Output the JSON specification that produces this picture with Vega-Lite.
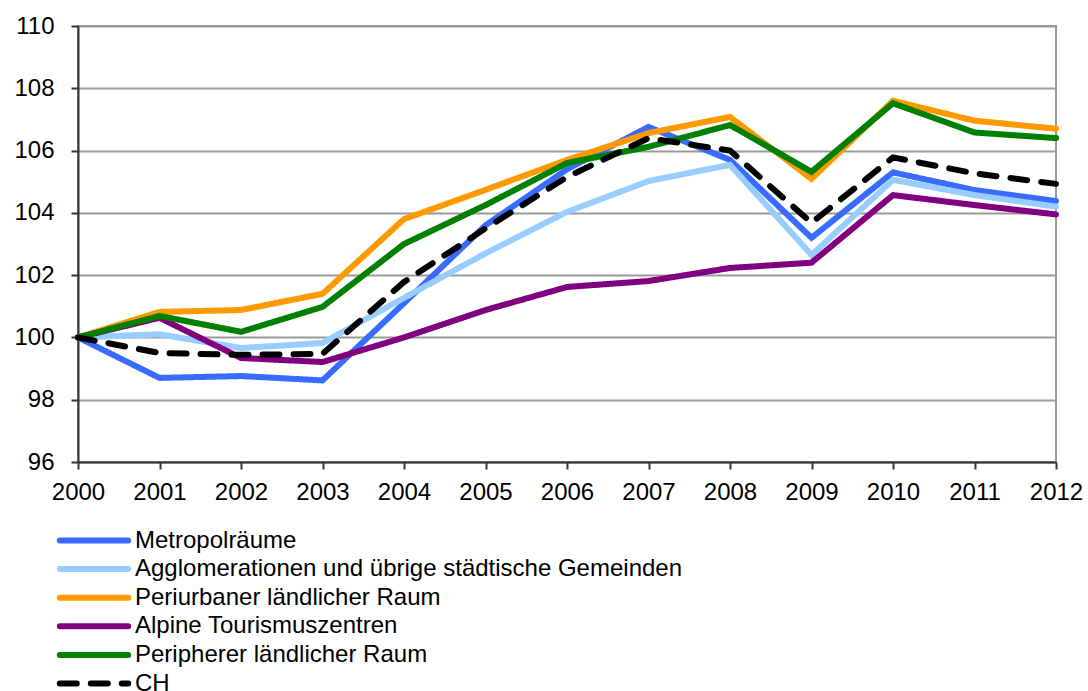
{
  "$schema": "https://vega.github.io/schema/vega-lite/v6.json",
  "width": 978,
  "height": 436,
  "autosize": {"type": "none"},
  "padding": {"left": 78, "top": 26, "right": 32, "bottom": 229},
  "background": "white",
  "config": {
    "font": "Liberation Sans",
    "view": {"stroke": "#999999", "strokeWidth": 2}
  },
  "data": {
    "values": [
      {"year": 2000, "series": "Metropolräume", "value": 100},
      {"year": 2001, "series": "Metropolräume", "value": 98.7},
      {"year": 2002, "series": "Metropolräume", "value": 98.76},
      {"year": 2003, "series": "Metropolräume", "value": 98.62},
      {"year": 2004, "series": "Metropolräume", "value": 101.1},
      {"year": 2005, "series": "Metropolräume", "value": 103.6},
      {"year": 2006, "series": "Metropolräume", "value": 105.4},
      {"year": 2007, "series": "Metropolräume", "value": 106.76},
      {"year": 2008, "series": "Metropolräume", "value": 105.7},
      {"year": 2009, "series": "Metropolräume", "value": 103.2},
      {"year": 2010, "series": "Metropolräume", "value": 105.3},
      {"year": 2011, "series": "Metropolräume", "value": 104.73},
      {"year": 2012, "series": "Metropolräume", "value": 104.38},

      {"year": 2000, "series": "Agglomerationen und übrige städtische Gemeinden", "value": 100},
      {"year": 2001, "series": "Agglomerationen und übrige städtische Gemeinden", "value": 100.1},
      {"year": 2002, "series": "Agglomerationen und übrige städtische Gemeinden", "value": 99.66},
      {"year": 2003, "series": "Agglomerationen und übrige städtische Gemeinden", "value": 99.82},
      {"year": 2004, "series": "Agglomerationen und übrige städtische Gemeinden", "value": 101.27},
      {"year": 2005, "series": "Agglomerationen und übrige städtische Gemeinden", "value": 102.7},
      {"year": 2006, "series": "Agglomerationen und übrige städtische Gemeinden", "value": 104.03},
      {"year": 2007, "series": "Agglomerationen und übrige städtische Gemeinden", "value": 105.02},
      {"year": 2008, "series": "Agglomerationen und übrige städtische Gemeinden", "value": 105.54},
      {"year": 2009, "series": "Agglomerationen und übrige städtische Gemeinden", "value": 102.65},
      {"year": 2010, "series": "Agglomerationen und übrige städtische Gemeinden", "value": 105.06},
      {"year": 2011, "series": "Agglomerationen und übrige städtische Gemeinden", "value": 104.57},
      {"year": 2012, "series": "Agglomerationen und übrige städtische Gemeinden", "value": 104.2},

      {"year": 2000, "series": "Periurbaner ländlicher Raum", "value": 100},
      {"year": 2001, "series": "Periurbaner ländlicher Raum", "value": 100.82},
      {"year": 2002, "series": "Periurbaner ländlicher Raum", "value": 100.88},
      {"year": 2003, "series": "Periurbaner ländlicher Raum", "value": 101.4},
      {"year": 2004, "series": "Periurbaner ländlicher Raum", "value": 103.8},
      {"year": 2005, "series": "Periurbaner ländlicher Raum", "value": 104.74},
      {"year": 2006, "series": "Periurbaner ländlicher Raum", "value": 105.7},
      {"year": 2007, "series": "Periurbaner ländlicher Raum", "value": 106.56},
      {"year": 2008, "series": "Periurbaner ländlicher Raum", "value": 107.08},
      {"year": 2009, "series": "Periurbaner ländlicher Raum", "value": 105.09},
      {"year": 2010, "series": "Periurbaner ländlicher Raum", "value": 107.6},
      {"year": 2011, "series": "Periurbaner ländlicher Raum", "value": 106.96},
      {"year": 2012, "series": "Periurbaner ländlicher Raum", "value": 106.7},

      {"year": 2000, "series": "Alpine Tourismuszentren", "value": 100},
      {"year": 2001, "series": "Alpine Tourismuszentren", "value": 100.63},
      {"year": 2002, "series": "Alpine Tourismuszentren", "value": 99.34},
      {"year": 2003, "series": "Alpine Tourismuszentren", "value": 99.21},
      {"year": 2004, "series": "Alpine Tourismuszentren", "value": 100.0},
      {"year": 2005, "series": "Alpine Tourismuszentren", "value": 100.88},
      {"year": 2006, "series": "Alpine Tourismuszentren", "value": 101.62},
      {"year": 2007, "series": "Alpine Tourismuszentren", "value": 101.81},
      {"year": 2008, "series": "Alpine Tourismuszentren", "value": 102.23},
      {"year": 2009, "series": "Alpine Tourismuszentren", "value": 102.4},
      {"year": 2010, "series": "Alpine Tourismuszentren", "value": 104.57},
      {"year": 2011, "series": "Alpine Tourismuszentren", "value": 104.25},
      {"year": 2012, "series": "Alpine Tourismuszentren", "value": 103.95},

      {"year": 2000, "series": "Peripherer ländlicher Raum", "value": 100},
      {"year": 2001, "series": "Peripherer ländlicher Raum", "value": 100.69},
      {"year": 2002, "series": "Peripherer ländlicher Raum", "value": 100.18},
      {"year": 2003, "series": "Peripherer ländlicher Raum", "value": 100.98},
      {"year": 2004, "series": "Peripherer ländlicher Raum", "value": 103.0},
      {"year": 2005, "series": "Peripherer ländlicher Raum", "value": 104.25},
      {"year": 2006, "series": "Peripherer ländlicher Raum", "value": 105.6},
      {"year": 2007, "series": "Peripherer ländlicher Raum", "value": 106.12},
      {"year": 2008, "series": "Peripherer ländlicher Raum", "value": 106.82},
      {"year": 2009, "series": "Peripherer ländlicher Raum", "value": 105.32},
      {"year": 2010, "series": "Peripherer ländlicher Raum", "value": 107.52},
      {"year": 2011, "series": "Peripherer ländlicher Raum", "value": 106.58},
      {"year": 2012, "series": "Peripherer ländlicher Raum", "value": 106.4},

      {"year": 2000, "series": "CH", "value": 100},
      {"year": 2001, "series": "CH", "value": 99.5},
      {"year": 2002, "series": "CH", "value": 99.44},
      {"year": 2003, "series": "CH", "value": 99.47},
      {"year": 2004, "series": "CH", "value": 101.78},
      {"year": 2005, "series": "CH", "value": 103.5},
      {"year": 2006, "series": "CH", "value": 105.15},
      {"year": 2007, "series": "CH", "value": 106.4},
      {"year": 2008, "series": "CH", "value": 106.0},
      {"year": 2009, "series": "CH", "value": 103.68},
      {"year": 2010, "series": "CH", "value": 105.78},
      {"year": 2011, "series": "CH", "value": 105.27},
      {"year": 2012, "series": "CH", "value": 104.93}
    ]
  },
  "mark": {"type": "line", "strokeWidth": 6, "strokeCap": "round", "strokeJoin": "miter"},
  "encoding": {
    "x": {
      "field": "year", "type": "quantitative",
      "scale": {"domain": [2000, 2012], "nice": false, "zero": false},
      "axis": {
        "title": null, "values": [2000,2001,2002,2003,2004,2005,2006,2007,2008,2009,2010,2011,2012],
        "format": "d", "grid": false, "domainColor": "#333333", "domainWidth": 2,
        "tickColor": "#333333", "tickWidth": 2, "tickSize": 7, "labelPadding": 11,
        "labelFlush": false, "labelFontSize": 24, "labelFont": "Liberation Sans", "labelColor": "black"
      }
    },
    "y": {
      "field": "value", "type": "quantitative",
      "scale": {"domain": [96, 110], "nice": false, "zero": false},
      "axis": {
        "title": null, "values": [96,98,100,102,104,106,108,110],
        "gridColor": "#999999", "gridWidth": 2, "domainColor": "#333333", "domainWidth": 2,
        "tickColor": "#333333", "tickWidth": 2, "tickSize": 7, "labelPadding": 17,
        "labelFontSize": 24, "labelFont": "Liberation Sans", "labelColor": "black"
      }
    },
    "color": {
      "field": "series", "type": "nominal",
      "scale": {
        "domain": ["Metropolräume", "Agglomerationen und übrige städtische Gemeinden", "Periurbaner ländlicher Raum", "Alpine Tourismuszentren", "Peripherer ländlicher Raum", "CH"],
        "range": ["#3A6BFF", "#99CCFF", "#FF9900", "#800080", "#008000", "#000000"]
      },
      "legend": {
        "title": null, "orient": "none", "legendX": 3.5, "legendY": 502,
        "symbolType": "M-3.7,0H3.7", "symbolSize": 342, "symbolStrokeWidth": 6,
        "labelFontSize": 24, "labelColor": "black", "labelFont": "Liberation Sans",
        "rowPadding": 3.6, "symbolOffset": 0, "labelOffset": 28.5, "labelLimit": 900,
        "encode": {"symbols": {"update": {"strokeCap": {"value": "round"}}}}
      }
    },
    "strokeDash": {
      "field": "series", "type": "nominal",
      "scale": {
        "domain": ["Metropolräume", "Agglomerationen und übrige städtische Gemeinden", "Periurbaner ländlicher Raum", "Alpine Tourismuszentren", "Peripherer ländlicher Raum", "CH"],
        "range": [[1, 0], [1, 0], [1, 0], [1, 0], [1, 0], [17, 14]]
      }
    },
    "order": {"field": "year"}
  }
}
